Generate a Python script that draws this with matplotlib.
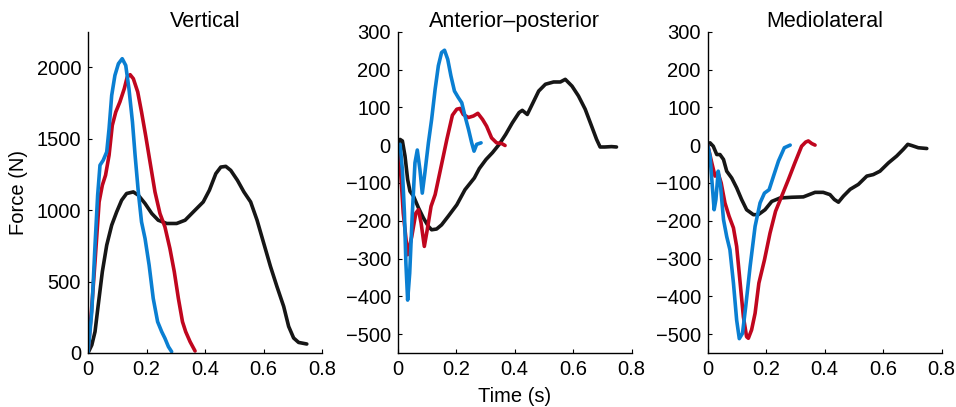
import matplotlib
matplotlib.use("Agg")
import matplotlib.pyplot as plt

plt.rcParams['font.family'] = ['Liberation Sans', 'DejaVu Sans']

# ---- Vertical ----
v_blue_t = [0, 0.013, 0.024, 0.033, 0.041, 0.052, 0.064, 0.072, 0.081, 0.092, 0.104, 0.117, 0.129, 0.14, 0.152, 0.161, 0.172, 0.183, 0.195, 0.209, 0.223, 0.238, 0.252, 0.263, 0.275, 0.286]
v_blue_f = [0, 289, 755, 1105, 1315, 1350, 1408, 1571, 1804, 1944, 2026, 2061, 2014, 1851, 1618, 1385, 1128, 918, 802, 615, 382, 219, 149, 103, 44, 9]
v_red_t = [0, 0.012, 0.024, 0.038, 0.049, 0.06, 0.072, 0.083, 0.095, 0.109, 0.124, 0.134, 0.144, 0.155, 0.17, 0.183, 0.197, 0.212, 0.229, 0.246, 0.263, 0.28, 0.295, 0.309, 0.323, 0.334, 0.349, 0.366]
v_red_f = [0, 300, 639, 1058, 1175, 1245, 1385, 1594, 1688, 1758, 1851, 1932, 1949, 1921, 1828, 1688, 1524, 1338, 1128, 977, 883, 732, 569, 382, 219, 149, 79, 14]
v_blk_t = [0, 0.013, 0.024, 0.035, 0.049, 0.064, 0.081, 0.098, 0.115, 0.132, 0.155, 0.172, 0.195, 0.218, 0.24, 0.269, 0.303, 0.332, 0.36, 0.394, 0.415, 0.437, 0.454, 0.471, 0.488, 0.511, 0.533, 0.556, 0.578, 0.601, 0.624, 0.646, 0.669, 0.686, 0.703, 0.72, 0.748]
v_blk_f = [0, 56, 149, 336, 569, 755, 895, 988, 1070, 1117, 1128, 1105, 1047, 977, 930, 907, 907, 930, 988, 1058, 1140, 1256, 1302, 1307, 1279, 1209, 1128, 1058, 930, 767, 605, 465, 326, 186, 105, 74, 63]

# ---- Anterior-posterior ----
ap_blue_t = [0, 0.008, 0.016, 0.023, 0.028, 0.034, 0.041, 0.05, 0.059, 0.067, 0.076, 0.084, 0.093, 0.105, 0.116, 0.128, 0.139, 0.15, 0.16, 0.171, 0.182, 0.194, 0.207, 0.219, 0.23, 0.242, 0.253, 0.261, 0.27, 0.285]
ap_blue_f = [0, 2, -65, -180, -312, -410, -339, -180, -47, -13, -65, -127, -73, 6, 68, 148, 210, 245, 251, 227, 183, 143, 126, 112, 77, 42, 6, -16, 2, 6]
ap_red_t = [0, 0.008, 0.019, 0.034, 0.048, 0.062, 0.071, 0.08, 0.091, 0.101, 0.114, 0.128, 0.139, 0.156, 0.168, 0.187, 0.202, 0.213, 0.224, 0.242, 0.259, 0.274, 0.29, 0.304, 0.321, 0.338, 0.356, 0.367]
ap_red_f = [0, -47, -180, -290, -242, -180, -171, -206, -268, -224, -162, -131, -91, -29, 15, 79, 95, 97, 81, 73, 77, 84, 68, 50, 19, 6, 4, -1]
ap_blk_t = [0, 0.008, 0.016, 0.025, 0.034, 0.042, 0.054, 0.071, 0.088, 0.105, 0.116, 0.133, 0.15, 0.173, 0.202, 0.23, 0.262, 0.279, 0.302, 0.324, 0.347, 0.369, 0.392, 0.415, 0.426, 0.443, 0.46, 0.482, 0.505, 0.533, 0.556, 0.573, 0.596, 0.618, 0.641, 0.663, 0.68, 0.692, 0.708, 0.731, 0.748]
ap_blk_f = [0, 15, 11, -29, -91, -122, -135, -166, -193, -215, -224, -222, -211, -188, -158, -118, -87, -62, -38, -20, 2, 28, 59, 86, 92, 81, 108, 143, 161, 167, 167, 174, 156, 130, 95, 50, 15, -5, -5, -4, -5]

# ---- Mediolateral ----
ml_blue_t = [0, 0.008, 0.014, 0.022, 0.028, 0.036, 0.044, 0.054, 0.065, 0.076, 0.088, 0.099, 0.108, 0.119, 0.13, 0.145, 0.162, 0.179, 0.194, 0.21, 0.225, 0.242, 0.262, 0.282]
ml_blue_f = [0, -29, -91, -171, -144, -69, -109, -197, -242, -277, -365, -463, -512, -498, -427, -321, -215, -153, -127, -118, -82, -42, -7, 0]
ml_red_t = [0, 0.014, 0.025, 0.036, 0.046, 0.059, 0.073, 0.088, 0.099, 0.11, 0.122, 0.133, 0.139, 0.15, 0.162, 0.175, 0.194, 0.213, 0.232, 0.253, 0.276, 0.298, 0.321, 0.335, 0.344, 0.356, 0.367]
ml_red_f = [0, -47, -82, -75, -100, -153, -188, -219, -268, -357, -454, -507, -511, -489, -445, -365, -304, -233, -175, -135, -91, -47, -3, 8, 11, 4, 0]
ml_blk_t = [0, 0.008, 0.019, 0.031, 0.042, 0.054, 0.065, 0.082, 0.099, 0.116, 0.133, 0.156, 0.173, 0.196, 0.219, 0.247, 0.287, 0.327, 0.367, 0.395, 0.418, 0.433, 0.447, 0.464, 0.487, 0.515, 0.544, 0.566, 0.589, 0.618, 0.646, 0.669, 0.684, 0.697, 0.72, 0.749]
ml_blk_f = [0, 6, -3, -25, -25, -38, -69, -87, -113, -144, -171, -184, -184, -171, -149, -140, -138, -137, -125, -125, -131, -144, -151, -135, -117, -104, -82, -78, -69, -47, -29, -11, 2, -1, -7, -9]

titles = ["Vertical", "Anterior\u2013posterior", "Mediolateral"]
xticks = [0, 0.2, 0.4, 0.6, 0.8]
xtick_labels = ["0", "0.2", "0.4", "0.6", "0.8"]
yticks_v = [0, 500, 1000, 1500, 2000]
yticks_h = [300, 200, 100, 0, -100, -200, -300, -400, -500]

BLUE = "#0a7fd2"
RED = "#c0061e"
BLACK = "#161616"

panels = [
    ((v_blk_t, v_blk_f), (v_red_t, v_red_f), (v_blue_t, v_blue_f)),
    ((ap_blk_t, ap_blk_f), (ap_red_t, ap_red_f), (ap_blue_t, ap_blue_f)),
    ((ml_blk_t, ml_blk_f), (ml_red_t, ml_red_f), (ml_blue_t, ml_blue_f)),
]

fig = plt.figure(figsize=(9.56, 4.07), dpi=100)
lefts = [88 / 956, 397.7 / 956, 707.7 / 956]
W = 234 / 956
B = (407 - 353) / 407
H = (353 - 31.7) / 407
FS = 14.5
TFS = 15.5

for i, (left, series) in enumerate(zip(lefts, panels)):
    ax = fig.add_axes([left, B, W, H])
    for (t, f), c in zip(series, [BLACK, RED, BLUE]):
        ax.plot(t, f, color=c, lw=2.6, solid_joinstyle='round', solid_capstyle='round')
    ax.set_xlim(0, 0.8)
    ax.set_xticks(xticks)
    ax.set_xticklabels(xtick_labels)
    if i == 0:
        ax.set_ylim(0, 2250)
        ax.set_yticks(yticks_v)
        ax.set_ylabel("Force (N)", fontsize=FS, labelpad=6)
    else:
        ax.set_ylim(-550, 300)
        ax.set_yticks(yticks_h)
    if i == 1:
        ax.set_xlabel("Time (s)", fontsize=FS, labelpad=6)
    ax.set_title(titles[i], fontsize=TFS, pad=-1)
    for s in ['top', 'right']:
        ax.spines[s].set_visible(False)
    for s in ['left', 'bottom']:
        ax.spines[s].set_linewidth(1.0)
    ax.tick_params(direction='in', length=3, width=0.8, labelsize=FS, pad=5)
    ax.patch.set_visible(False)

fig.savefig("out.png", dpi=100)
